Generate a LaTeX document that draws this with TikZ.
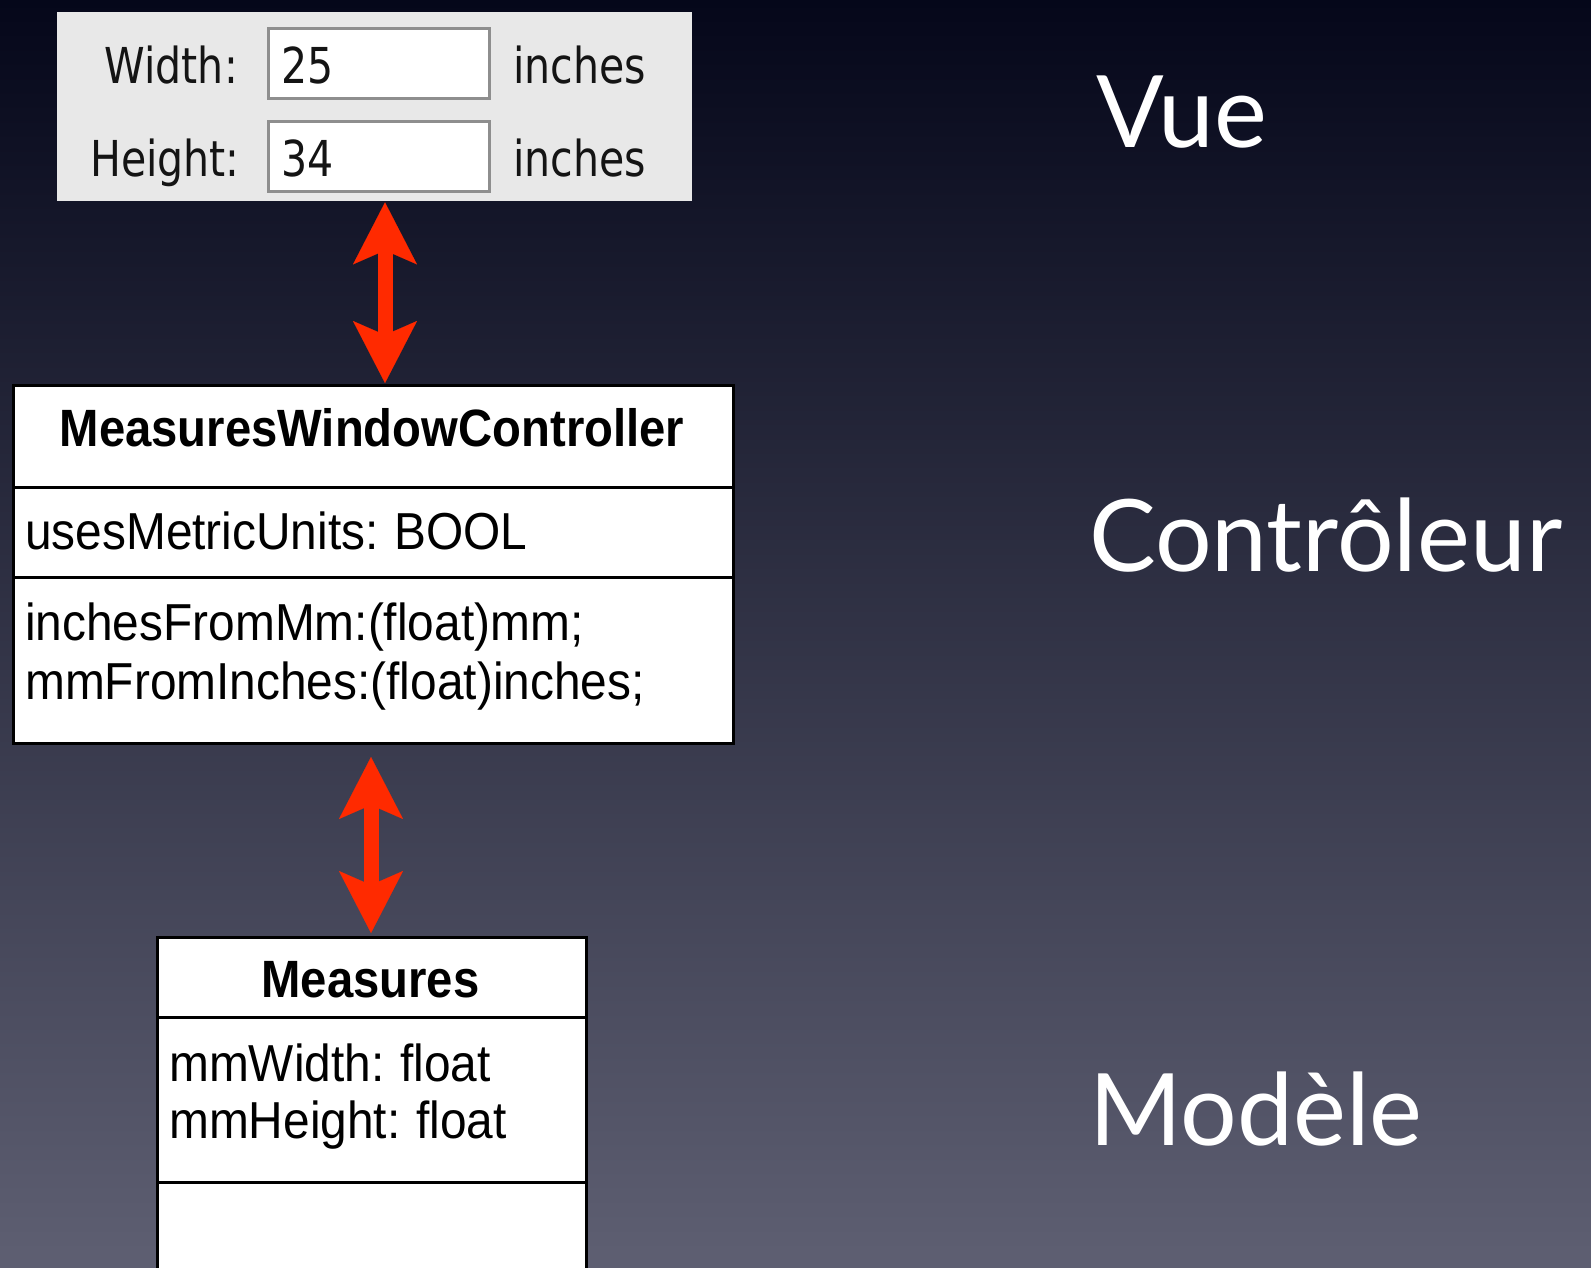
\documentclass[tikz,border=0pt]{standalone}
\usepackage{fontspec}
\setmainfont{Liberation Sans}
\newfontfamily\umlfont[FakeStretch=0.92,WordSpace=0.85]{Liberation Sans}
\newfontfamily\umlboldfont[FakeStretch=0.9]{Liberation Sans}
\newfontfamily\uifont[FakeStretch=0.83]{DejaVu Sans}
\newfontfamily\gillfont{Lato}
\usetikzlibrary{arrows.meta}
\definecolor{bgtop}{HTML}{05071A}
\definecolor{bgmid}{HTML}{2C2E47}
\definecolor{bgbot}{HTML}{5E5F72}
\definecolor{arrowred}{HTML}{FF2A00}
\definecolor{panelgray}{HTML}{E8E8E8}
\definecolor{fieldborder}{HTML}{8E8E8E}
\definecolor{uitextcol}{HTML}{141414}
\tikzset{
  umlbox/.style={draw=black, fill=white, line width=3pt, inner sep=0pt, anchor=north west},
  compline/.style={draw=black, line width=3pt},
  umltitle/.style={inner sep=0pt, anchor=base, font=\umlboldfont\bfseries\fontsize{52.5}{60}\selectfont},
  umltext/.style={inner sep=0pt, anchor=base west, font=\umlfont\fontsize{52}{60}\selectfont},
  panel/.style={fill=panelgray, inner sep=0pt, anchor=north west},
  field/.style={fill=white, draw=fieldborder, line width=2.5pt, inner sep=0pt, anchor=north west},
  uitext/.style={inner sep=0pt, text=uitextcol, font=\uifont\fontsize{49.5}{56}\selectfont},
  layer/.style={inner sep=0pt, anchor=base west, text=white, font=\gillfont\fontsize{100}{110}\selectfont},
  bigarrow/.style={draw=arrowred, line width=15pt,
    {Stealth[length=62pt,width=64pt,inset=14pt,line width=0.1pt]}-{Stealth[length=62pt,width=64pt,inset=14pt,line width=0.1pt]}}
}
\begin{document}
\begin{tikzpicture}[x=1pt,y=-1pt]
\useasboundingbox (0,0) rectangle (1591,1267);
\clip (0,0) rectangle (1591,1267);
\shade[top color=bgtop, middle color=bgmid, bottom color=bgbot] (0,0) rectangle (1591,1267);

% View panel
\node[panel, minimum width=635pt, minimum height=189pt] (form) at (57,12) {};
\node[field, minimum width=221pt, minimum height=70pt] (f1) at (267,27) {};
\node[field, minimum width=221pt, minimum height=70pt] (f2) at (267,120) {};
\node[uitext, anchor=base east] (lw) at (238,83) {Width:};
\node[uitext, anchor=base east] (lh) at (240,176) {Height:};
\node[uitext, anchor=base west] (vw) at (281,83) {25};
\node[uitext, anchor=base west] (vh) at (281,176) {34};
\node[uitext, anchor=base west] (uw) at (513,83) {inches};
\node[uitext, anchor=base west] (uh) at (513,176) {inches};

% Controller
\node[umlbox, minimum width=720pt, minimum height=358pt] (ctrl) at (12,384) {};
\draw[compline] (12,487) -- (732,487);
\draw[compline] (12,577) -- (732,577);
\node[umltitle] (ctitle) at (372,446) {MeasuresWindowController};
\node[umltext] (cattr) at (25,549) {usesMetricUnits: BOOL};
\node[umltext] (cm1) at (25,640) {inchesFromMm:(float)mm;};
\node[umltext] (cm2) at (25,699) {mmFromInches:(float)inches;};

% Model
\node[umlbox, minimum width=429pt, minimum height=400pt] (meas) at (156,936) {};
\draw[compline] (156,1017) -- (585,1017);
\draw[compline] (156,1182) -- (585,1182);
\node[umltitle] (mtitle) at (370.5,997) {Measures};
\node[umltext] (ma1) at (169,1081) {mmWidth: float};
\node[umltext] (ma2) at (169,1138) {mmHeight: float};

% Arrows
\coordinate (a1x) at (385,0);
\coordinate (a2x) at (371,0);
\draw[bigarrow, shorten >=1pt, shorten <=1pt] (form.south -| a1x) -- (ctrl.north -| a1x);
\draw[bigarrow, shorten <=12pt, shorten >=3pt] (ctrl.south -| a2x) -- (meas.north -| a2x);

% Layer labels
\node[layer] (vue) at (1096,147) {Vue};
\node[layer] (ctl) at (1089,571) {Contrôleur};
\node[layer] (mod) at (1089,1145) {Modèle};
\end{tikzpicture}
\end{document}
